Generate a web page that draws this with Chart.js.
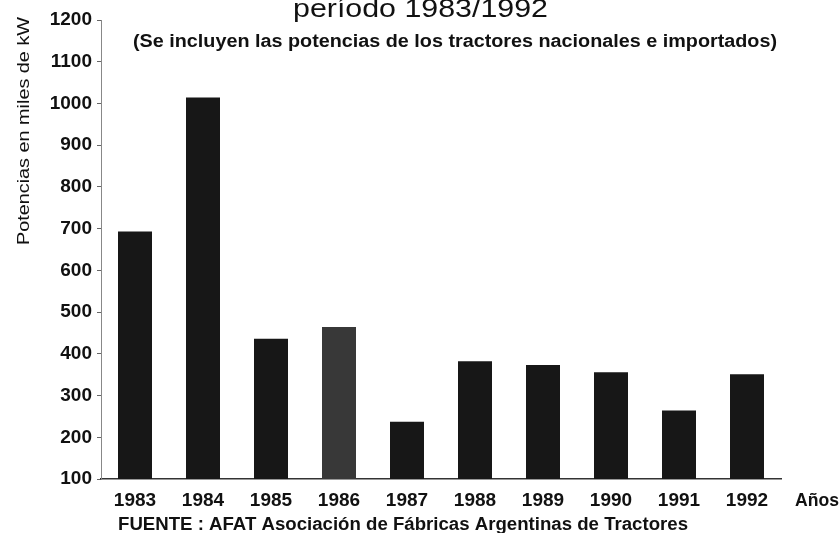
<!DOCTYPE html>
<html>
<head>
<meta charset="utf-8">
<script src="https://cdn.jsdelivr.net/npm/chart.js@4/dist/chart.umd.min.js"></script>
<style>
html,body{margin:0;padding:0;background:#fff;}
#wrap{width:839px;height:533px;position:relative;}
</style>
</head>
<body>
<div id="wrap"><canvas id="c" width="839" height="533"></canvas></div>
<script>
const categories = ['1983','1984','1985','1986','1987','1988','1989','1990','1991','1992'];
const potencias = [693, 1014, 436, 464, 237, 382, 373, 356, 264, 351];
const yTicks = [100,200,300,400,500,600,700,800,900,1000,1100,1200];
const titleText = 'período 1983/1992';
const subtitleText = '(Se incluyen las potencias de los tractores nacionales e importados)';
const yLabelText = 'Potencias en miles de kW';
const xLabelText = 'Años';
const footerText = 'FUENTE : AFAT Asociación de Fábricas Argentinas de Tractores';

const FONT = '"Liberation Sans", Arial, sans-serif';
const barColors = categories.map(c => c === '1986' ? '#383838' : '#171717');

// draw text from left x, stretched horizontally to a given width
function fitText(ctx, text, x, y, width) {
  const w = ctx.measureText(text).width;
  ctx.save();
  ctx.translate(x, y);
  ctx.scale(width / w, 1);
  ctx.textAlign = 'left';
  ctx.fillText(text, 0, 0);
  ctx.restore();
}

const textPlugin = {
  id: 'texts',
  afterDraw(chart) {
    const ctx = chart.ctx;
    ctx.save();
    ctx.fillStyle = '#111';
    ctx.textBaseline = 'alphabetic';
    ctx.font = '25px ' + FONT;
    fitText(ctx, titleText, 293, 17, 255);
    ctx.font = 'bold 18px ' + FONT;
    fitText(ctx, subtitleText, 133, 47, 644);
    ctx.font = 'bold 17.5px ' + FONT;
    fitText(ctx, footerText, 118, 530, 570);
    ctx.font = 'bold 19px ' + FONT;
    fitText(ctx, xLabelText, 795, 506, 44);
    ctx.translate(29, 245);
    ctx.rotate(-Math.PI/2);
    ctx.font = '17px ' + FONT;
    fitText(ctx, yLabelText, 0, 0, 228);
    ctx.restore();
  }
};

new Chart(document.getElementById('c'), {
  type: 'bar',
  data: {
    labels: categories,
    datasets: [{
      data: potencias,
      backgroundColor: barColors,
      borderWidth: 0,
      barPercentage: 0.5,
      categoryPercentage: 1.0
    }]
  },
  options: {
    responsive: false,
    animation: false,
    events: [],
    layout: { padding: { left: 0, right: 58, top: 20, bottom: 0 } },
    plugins: { legend: { display: false }, title: { display: false }, tooltip: { enabled: false } },
    scales: {
      x: {
        grid: { display: false, drawTicks: false },
        border: { display: true, color: '#333', width: 1.5 },
        ticks: { color: '#111', font: { family: FONT, size: 19, weight: 'bold' }, padding: 10, maxRotation: 0 },
        afterFit(s) { s.height = 54; }
      },
      y: {
        min: 100, max: 1200,
        afterBuildTicks(s) { s.ticks = yTicks.map(v => ({ value: v })); },
        grid: { drawOnChartArea: false, drawTicks: true, tickLength: 4, color: '#666' },
        border: { display: true, color: '#888', width: 1 },
        ticks: { color: '#111', font: { family: FONT, size: 19, weight: 'bold' }, padding: 5,
                 callback: v => String(v) },
        afterFit(s) { s.width = 101; }
      }
    }
  },
  plugins: [textPlugin]
});
</script>
</body>
</html>
